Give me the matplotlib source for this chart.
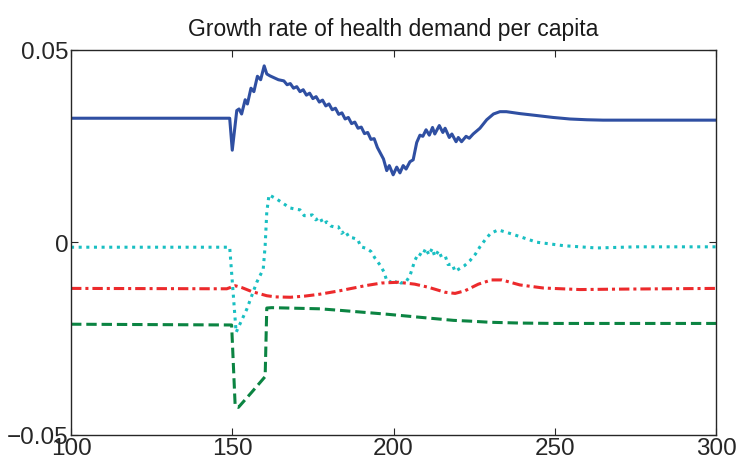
import numpy as np
import matplotlib
matplotlib.use("Agg")
import matplotlib.pyplot as plt

plt.rcParams['font.family'] = ['Liberation Sans', 'DejaVu Sans']

# Blue solid line
blueX = [100, 149.2, 150.0, 151.4, 152.1, 152.9, 154.0, 154.7, 155.8, 156.7, 157.8, 158.8, 159.9, 160.7,
         161.7, 164.3, 166, 167, 168, 169, 170, 171, 172, 173, 174, 175, 176, 177, 178, 179, 180,
         181, 182, 183, 184, 185, 186, 187, 188, 189, 190, 191, 192, 193, 194, 195,
         196.9, 197.9, 198.7, 199.9, 201.0, 202.0, 203.0, 203.9, 205.1, 206.1, 207.2, 208.2, 209.1,
         210.1, 211.1, 212.1, 212.8, 214.2, 215.3, 216.0, 217.3, 218.1, 219.4, 220.1, 221.1, 222.5,
         223.5, 224.7, 226.8, 228.9, 231.0, 233.0, 235.0, 239.2, 244.4, 249.5, 254.7, 260, 265, 300]
blueY = [0.0322, 0.0322, 0.0239, 0.0342, 0.0346, 0.0333, 0.0370, 0.0359, 0.0400, 0.0391, 0.0431, 0.0422, 0.0458, 0.0437,
         0.0432, 0.0422, 0.0419, 0.0409, 0.0412, 0.0400, 0.0404, 0.0391, 0.0396, 0.0382, 0.0387, 0.0373, 0.0378, 0.0364, 0.0369, 0.0354, 0.0359,
         0.0344, 0.0348, 0.0332, 0.0336, 0.0320, 0.0324, 0.0308, 0.0312, 0.0296, 0.0299, 0.0282, 0.0285, 0.0267, 0.0269, 0.0246,
         0.0216, 0.0186, 0.0199, 0.0175, 0.0195, 0.0180, 0.0199, 0.0190, 0.0209, 0.0214, 0.0259, 0.0278, 0.0275,
         0.0292, 0.0278, 0.0298, 0.0281, 0.0303, 0.0285, 0.0296, 0.0272, 0.0281, 0.0261, 0.0272, 0.0261, 0.0275,
         0.0270, 0.0281, 0.0296, 0.0318, 0.0333, 0.0339, 0.0339, 0.0334, 0.0329, 0.0324, 0.0320, 0.0318, 0.0317, 0.0317]

# Cyan dotted line
cyanX = [100, 149.2, 151.2, 154.5, 157.6, 159.6, 160.2, 160.7, 161.4, 163.8, 166.1, 167.9, 169.5, 171.0,
         172.3, 173.6, 174.8, 175.9, 177.2, 178.2, 179.3, 180.6, 181.9, 182.9, 183.9, 185.0, 186.2, 187.5,
         188.9, 189.9, 191.6, 193.0, 194.3, 195.8, 197.1, 197.9, 198.9, 200.2, 201.3, 202.3, 203.8, 205.1,
         206.6, 207.7, 208.9, 210.0, 211.0, 212.0, 212.8, 214.0, 214.9, 216.1, 216.9, 218.2, 219.1, 220.6,
         222.0, 223.7, 225.4, 226.8, 228.4, 230.1, 232.5, 237.2, 244.4, 252.7, 263.0, 275.4, 300]
cyanY = [-0.0013, -0.0013, -0.0234, -0.0174, -0.0104, -0.0070, -0.0009, 0.0078, 0.0123, 0.0112, 0.0099, 0.0089, 0.0086, 0.0084,
         0.0069, 0.0069, 0.0071, 0.0058, 0.0065, 0.0047, 0.0053, 0.0042, 0.0039, 0.0040, 0.0023, 0.0030, 0.0013, 0.0011,
         0.0007, -0.0012, -0.0016, -0.0024, -0.0042, -0.0059, -0.0078, -0.0100, -0.0102, -0.0110, -0.0098, -0.0106, -0.0104, -0.0087,
         -0.0048, -0.0029, -0.0035, -0.0016, -0.0033, -0.0016, -0.0037, -0.0022, -0.0039, -0.0037, -0.0058, -0.0057, -0.0076, -0.0068,
         -0.0061, -0.0048, -0.0031, -0.0012, 0.0006, 0.0023, 0.0032, 0.0020, 0.0000, -0.0009, -0.0015, -0.0012, -0.0012]

# Red dash-dot line
redX = [100, 148.3, 150.9, 153, 156.0, 160.7, 163.3, 168.0, 172.5, 177.2, 183.4, 191.2, 196.3, 201.5,
        206.6, 210.8, 216.0, 219.1, 222.2, 226.3, 230.4, 233.6, 239.2, 246.5, 257.8, 268.2, 300]
redY = [-0.0120, -0.0121, -0.0113, -0.0118, -0.0128, -0.0139, -0.0142, -0.0143, -0.0140, -0.0135, -0.0126, -0.0113, -0.0106, -0.0104,
        -0.0109, -0.0117, -0.0130, -0.0133, -0.0126, -0.0109, -0.0098, -0.0098, -0.0111, -0.0119, -0.0123, -0.0122, -0.0120]

# Green dashed line
greenX = [100, 149.8, 150.9, 151.9, 156, 160.2, 160.7, 162.2, 177.2, 183.4, 197.9, 208.2, 218.6, 223.7, 230, 239.2, 250, 300]
greenY = [-0.0213, -0.0215, -0.0425, -0.0429, -0.0390, -0.0349, -0.0171, -0.0170, -0.0173, -0.0177, -0.0187, -0.0195,
          -0.0203, -0.0205, -0.0208, -0.0210, -0.0211, -0.0211]

xTicks = [100, 150, 200, 250, 300]
yTicks = [-0.05, 0, 0.05]
yTickLabels = ['\u22120.05', '0', '0.05']

fig = plt.figure(figsize=(7.36, 4.6), dpi=100)
ax = fig.add_axes([0.0965, 0.0528, 0.8763, 0.837])

lw = 2.2
ax.plot(blueX, blueY, color='#2f4fa2', lw=lw, solid_joinstyle='round')
ax.plot(cyanX, cyanY, color='#19bfc2', lw=lw, dashes=(1.0, 1.5))
ax.plot(redX, redY, color='#ec2a2c', lw=lw, dashes=(3.4, 1.3, 1.0, 1.3))
ax.plot(greenX, greenY, color='#0b8442', lw=lw, dashes=(3.4, 1.6))

ax.set_xlim(100, 300)
ax.set_ylim(-0.05, 0.05)
ax.set_xticks(xTicks)
ax.set_yticks(yTicks)
ax.set_yticklabels(yTickLabels)
ax.tick_params(direction='in', length=5, width=0.8, top=True, right=True,
               labelsize=17.5, pad=2, colors='#262626')
for s in ax.spines.values():
    s.set_color('#262626')
    s.set_linewidth(1.0)

ax.set_title('Growth rate of health demand per capita', fontsize=16.5, pad=10.5, color='#1a1a1a')

fig.savefig('out.png', dpi=100)
